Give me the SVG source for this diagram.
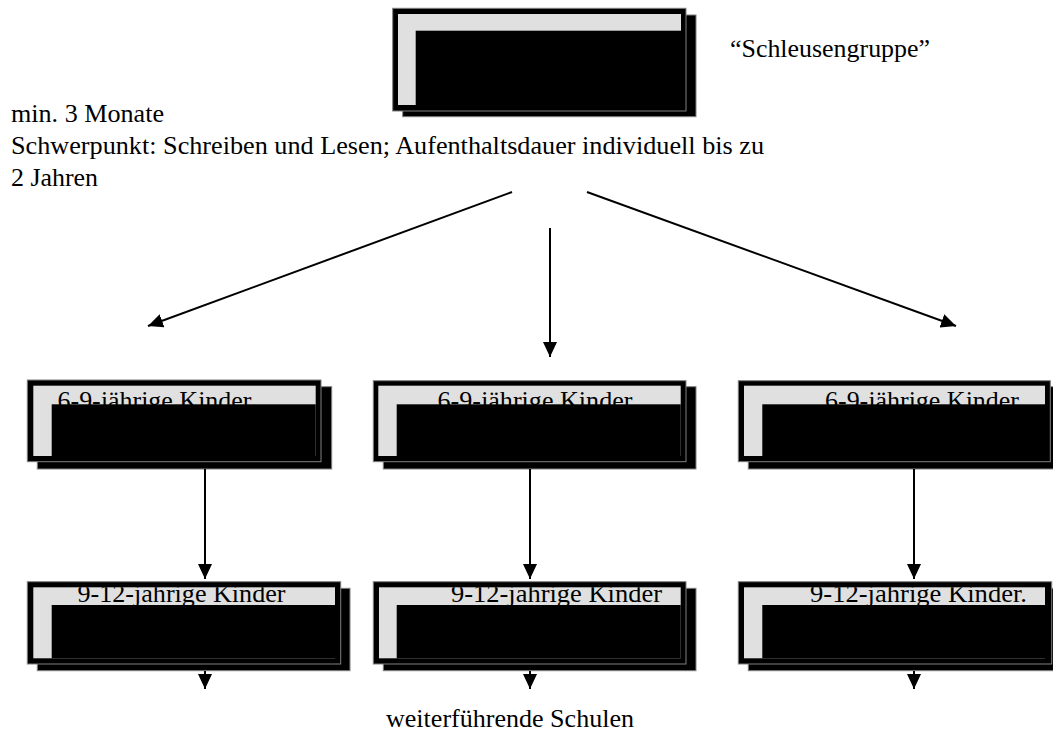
<svg xmlns="http://www.w3.org/2000/svg" width="1053" height="731" viewBox="0 0 1053 731">
<style>
.shadow{fill:#000;stroke:#808080;stroke-width:1}
.frame{fill:#000;stroke:#808080;stroke-width:1}
.face{fill:#e0e0e0}
.inner{fill:#000}
.t{font-family:"Liberation Serif","Times New Roman",serif;font-size:26px;fill:#000}
.conn line{stroke:#000;stroke-width:2;fill:none}
</style>
<defs>
<marker id="ah" markerUnits="userSpaceOnUse" markerWidth="16" markerHeight="14" refX="15" refY="7" orient="auto">
<path d="M0,0 L15,7 L0,14 z" fill="#000"/>
</marker>
<clipPath id="c1"><rect x="33.3" y="385.7" width="282.4" height="70.3"/></clipPath>
<clipPath id="c2"><rect x="378.3" y="385.7" width="302.4" height="70.3"/></clipPath>
<clipPath id="c3"><rect x="744" y="385.7" width="301" height="70.3"/></clipPath>
<clipPath id="c4"><rect x="33.3" y="587.3" width="301.7" height="71"/></clipPath>
<clipPath id="c5"><rect x="379" y="587.3" width="301.7" height="71"/></clipPath>
<clipPath id="c6"><rect x="744" y="587.3" width="301" height="71"/></clipPath>
</defs>
<rect width="1053" height="731" fill="#fff"/>

<g id="schleusengruppe">
<rect class="shadow" x="402.7" y="15" width="293.3" height="101.7"/>
<rect class="frame" x="392.7" y="8.3" width="293.3" height="102.7"/>
<rect class="face" x="398" y="14" width="283" height="91"/>
<rect class="inner" x="415.7" y="30.7" width="265.3" height="74.3"/>
</g>

<g id="label-schleusengruppe">
<text class="t" x="730" y="57" textLength="200" lengthAdjust="spacingAndGlyphs">“Schleusengruppe”</text>
</g>

<g id="info-text">
<text class="t" x="11" y="121.5" textLength="153" lengthAdjust="spacingAndGlyphs">min. 3 Monate</text>
<text class="t" x="11" y="153.5" textLength="753" lengthAdjust="spacingAndGlyphs">Schwerpunkt: Schreiben und Lesen; Aufenthaltsdauer individuell bis zu</text>
<text class="t" x="11" y="185.5" textLength="87" lengthAdjust="spacingAndGlyphs">2 Jahren</text>
</g>

<g id="box-6-9-left">
<rect class="shadow" x="37.3" y="386.7" width="294.4" height="82.3"/>
<rect class="frame" x="27.3" y="380" width="293.7" height="81.7"/>
<rect class="face" x="33.3" y="385.7" width="282.4" height="70.3"/>
<text class="t" x="57.5" y="409" textLength="194" lengthAdjust="spacingAndGlyphs" clip-path="url(#c1)">6-9-jährige Kinder</text>
<rect class="inner" x="51.7" y="404.3" width="264" height="51.7"/>
</g>

<g id="box-6-9-middle">
<rect class="shadow" x="383.3" y="386.7" width="312.7" height="82.3"/>
<rect class="frame" x="373.3" y="380.7" width="312.7" height="81"/>
<rect class="face" x="378.3" y="385.7" width="302.4" height="70.3"/>
<text class="t" x="437.5" y="409" textLength="195" lengthAdjust="spacingAndGlyphs" clip-path="url(#c2)">6-9-jährige Kinder</text>
<rect class="inner" x="396.7" y="404.3" width="284" height="51.7"/>
</g>

<g id="box-6-9-right">
<rect class="shadow" x="748.3" y="386.7" width="320" height="82.3"/>
<rect class="frame" x="738.3" y="380.7" width="312" height="81"/>
<rect class="face" x="744" y="385.7" width="301" height="70.3"/>
<text class="t" x="825" y="409" textLength="194" lengthAdjust="spacingAndGlyphs" clip-path="url(#c3)">6-9-jährige Kinder</text>
<rect class="inner" x="762.3" y="404.3" width="282.7" height="51.7"/>
</g>

<g id="box-9-12-left">
<rect class="shadow" x="37.3" y="588.3" width="312.7" height="82.4"/>
<rect class="frame" x="27.3" y="581.7" width="313.4" height="82.3"/>
<rect class="face" x="33.3" y="587.3" width="301.7" height="71"/>
<text class="t" x="77.5" y="602" textLength="208" lengthAdjust="spacingAndGlyphs" clip-path="url(#c4)">9-12-jahrige Kinder</text>
<rect class="inner" x="51.7" y="605" width="283.3" height="53.3"/>
</g>

<g id="box-9-12-middle">
<rect class="shadow" x="383.3" y="588.3" width="312.7" height="82.4"/>
<rect class="frame" x="373.3" y="581.7" width="312.7" height="82.3"/>
<rect class="face" x="379" y="587.3" width="301.7" height="71"/>
<text class="t" x="451" y="602" textLength="211" lengthAdjust="spacingAndGlyphs" clip-path="url(#c5)">9-12-jahrige Kinder</text>
<rect class="inner" x="396.7" y="605" width="284" height="53.3"/>
</g>

<g id="box-9-12-right">
<rect class="shadow" x="748.3" y="588.3" width="320" height="82.4"/>
<rect class="frame" x="738.3" y="581.7" width="313.4" height="82.3"/>
<rect class="face" x="744" y="587.3" width="301" height="71"/>
<text class="t" x="810" y="602" textLength="217" lengthAdjust="spacingAndGlyphs" clip-path="url(#c6)">9-12-jahrige Kinder.</text>
<rect class="inner" x="762.3" y="605" width="282.7" height="53.3"/>
</g>

<g id="label-weiterfuehrende">
<text class="t" x="386" y="727" textLength="248" lengthAdjust="spacingAndGlyphs">weiterführende Schulen</text>
</g>

<g id="connectors" class="conn">
<line x1="512" y1="192" x2="148" y2="326" marker-end="url(#ah)"/>
<line x1="550" y1="228" x2="550" y2="357" marker-end="url(#ah)"/>
<line x1="587" y1="192" x2="956" y2="326" marker-end="url(#ah)"/>
<line x1="205" y1="469" x2="205" y2="579" marker-end="url(#ah)"/>
<line x1="530" y1="469" x2="530" y2="579" marker-end="url(#ah)"/>
<line x1="914" y1="469" x2="914" y2="579" marker-end="url(#ah)"/>
<line x1="205" y1="671" x2="205" y2="689" marker-end="url(#ah)"/>
<line x1="530" y1="671" x2="530" y2="689" marker-end="url(#ah)"/>
<line x1="914" y1="671" x2="914" y2="689" marker-end="url(#ah)"/>
</g>
</svg>
